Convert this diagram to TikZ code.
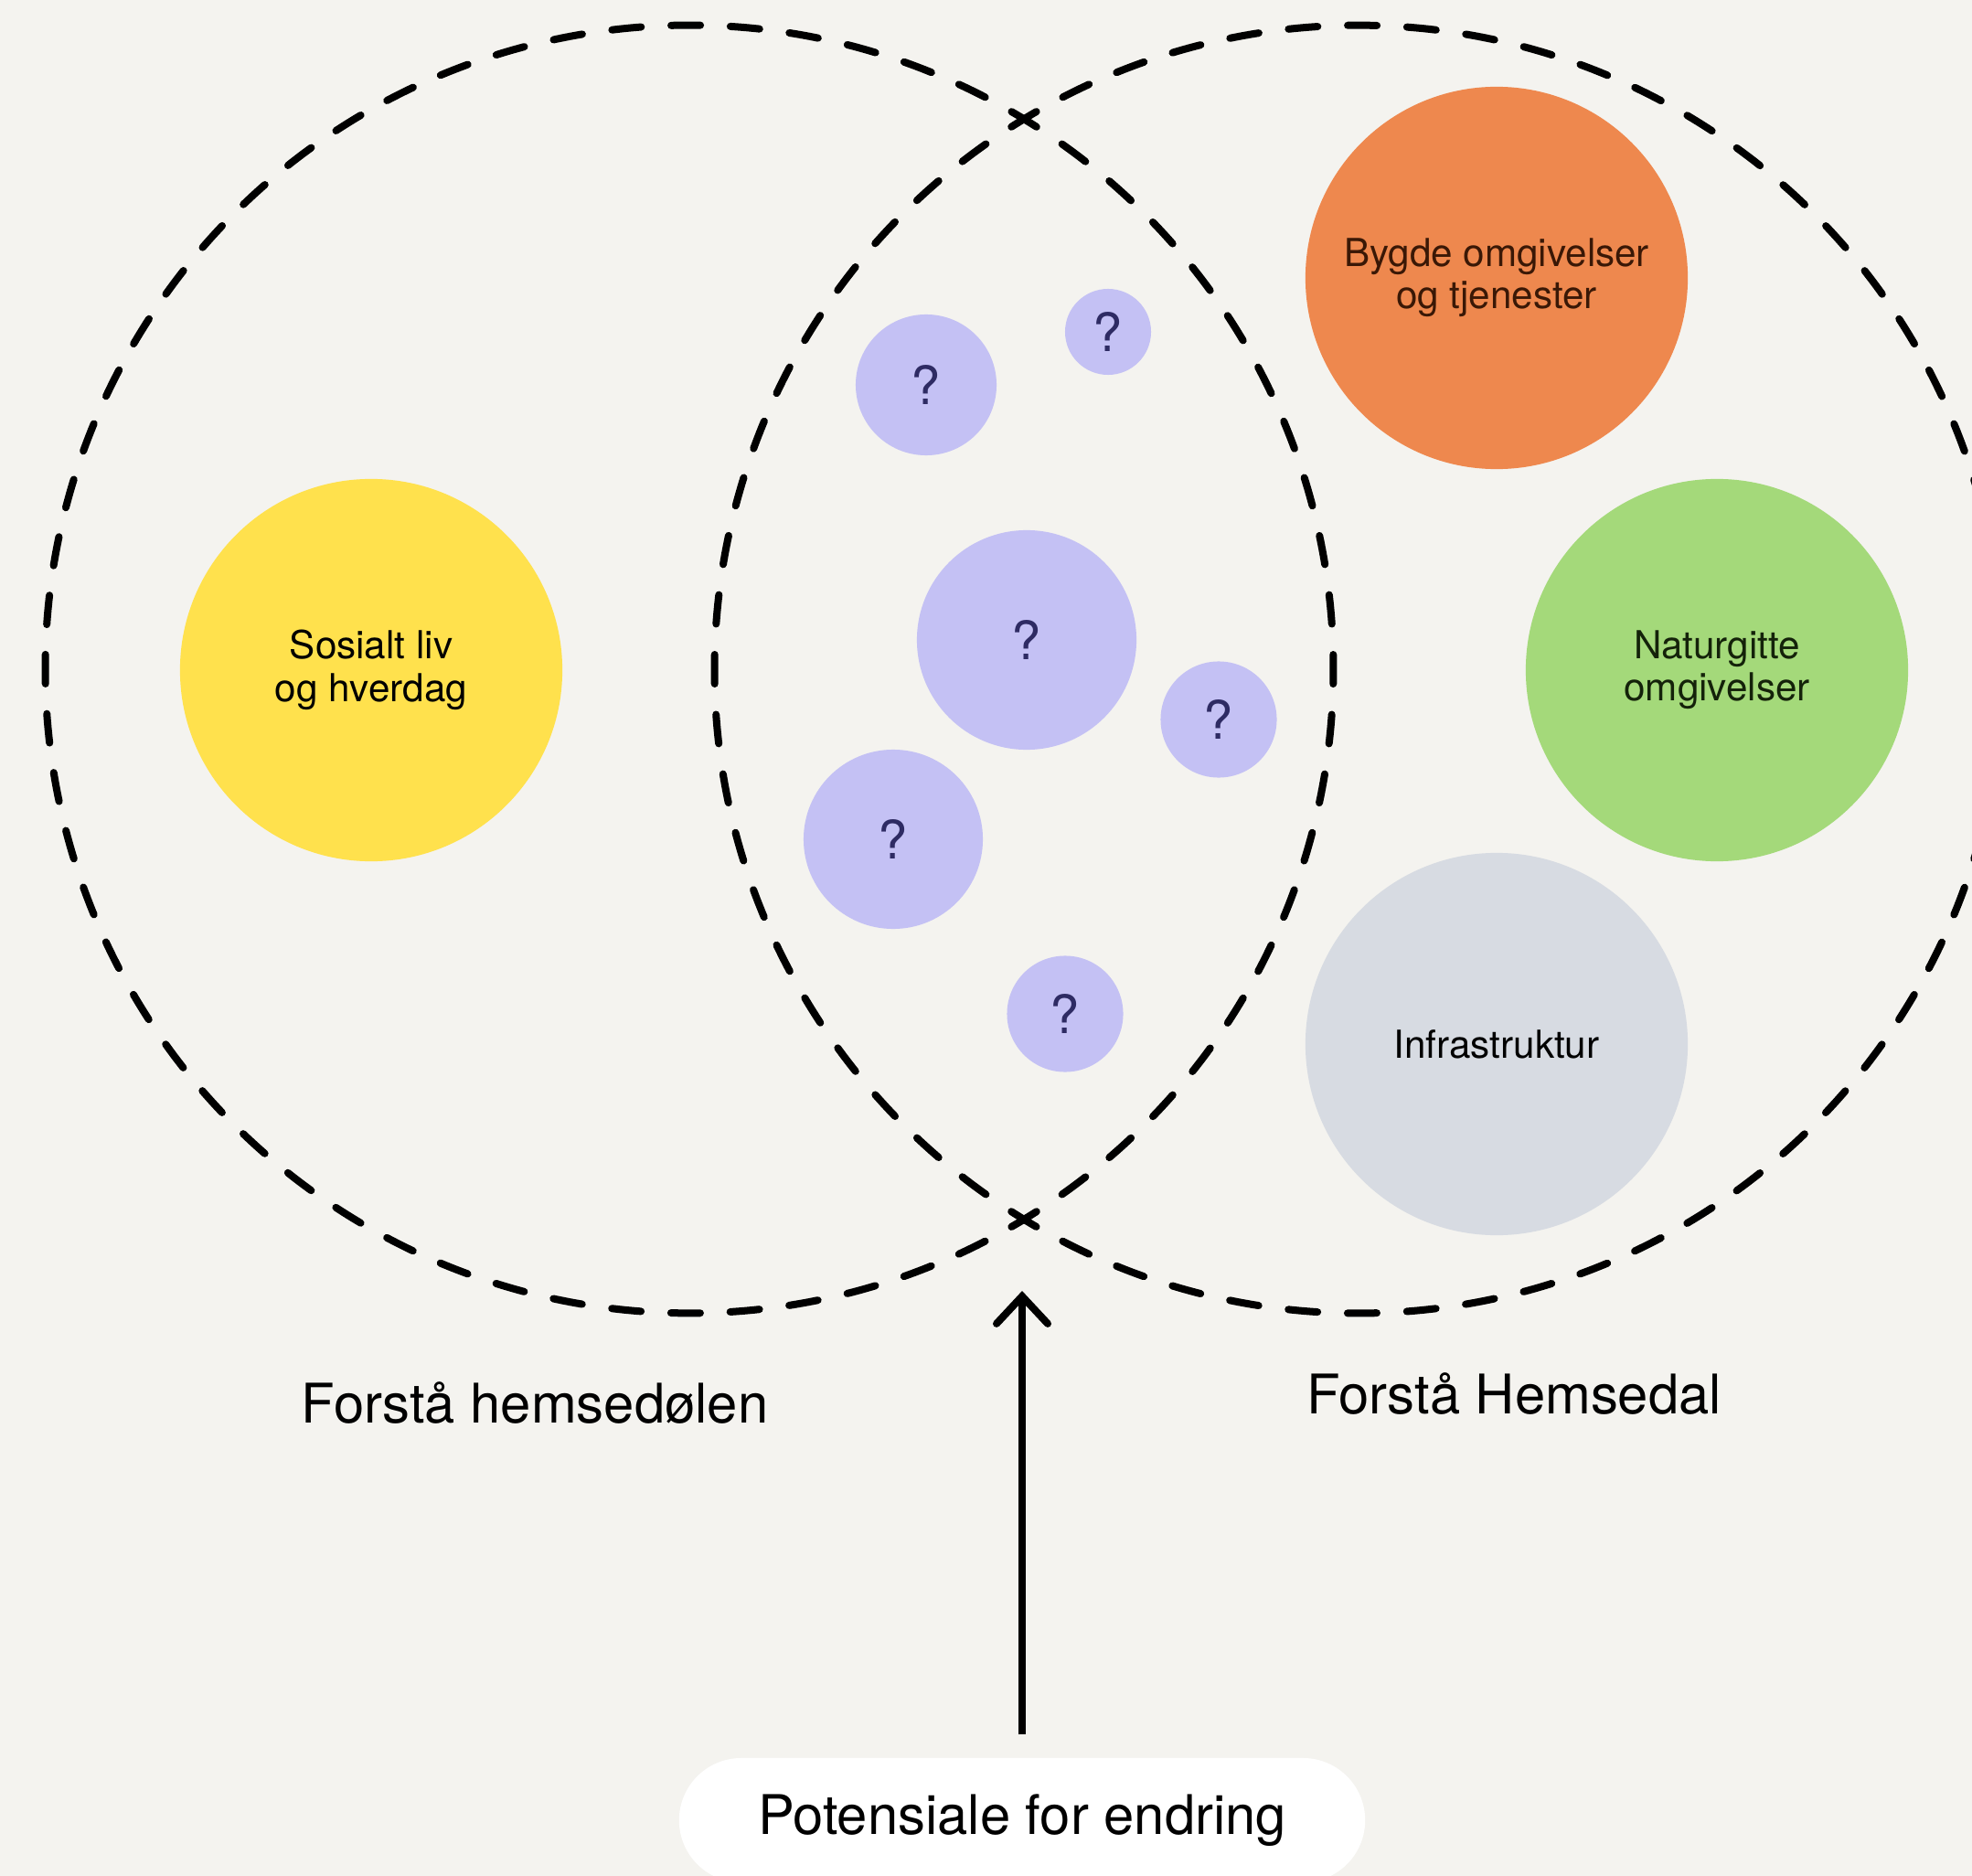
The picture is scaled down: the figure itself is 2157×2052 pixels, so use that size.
\documentclass[tikz,border=0pt]{standalone}
\usepackage{fontspec}
\setmainfont{TeX Gyre Heros}
\usetikzlibrary{arrows.meta}
\definecolor{bgc}{HTML}{F4F3EF}
\definecolor{yel}{HTML}{FFE14D}
\definecolor{ora}{HTML}{EE884E}
\definecolor{orat}{HTML}{3A1806}
\definecolor{gre}{HTML}{A4D97A}
\definecolor{gret}{HTML}{14220A}
\definecolor{gry}{HTML}{D7DBE2}
\definecolor{pur}{HTML}{C4C1F4}
\definecolor{purt}{HTML}{2E2B63}
\tikzset{
  vennline/.style={draw=black, line width=0.08cm, line cap=round, dash phase=0.16cm},
  outerarc/.style={vennline, dash pattern=on 0.32cm off 0.32815cm},
  innerarc/.style={vennline, dash pattern=on 0.32cm off 0.3354cm},
  topic/.style={circle, inner sep=0pt, minimum size=4.18cm, align=center, font=\fontsize{12}{13.2}\selectfont},
  qbub/.style={circle, fill=pur, inner sep=0pt, text=purt, font=\fontsize{16.5}{16.5}\selectfont},
  biglabel/.style={font=\fontsize{17}{20}\selectfont},
}
\begin{document}
\begin{tikzpicture}[x=0.01cm,y=-0.01cm]
\fill[bgc] (0,0) rectangle (2157,2052);
\useasboundingbox (0,0) rectangle (2157,2052);

% topic circles
\node[topic, fill=yel, text=black] (sos) at (406,733) {Sosialt liv\\og hverdag};
\node[topic, fill=ora, text=orat] (byg) at (1637,304) {Bygde omgivelser\\og tjenester};
\node[topic, fill=gre, text=gret] (nat) at (1878,733) {Naturgitte\\omgivelser};
\node[topic, fill=gry, text=black] (inf) at (1637,1142) {Infrastruktur};

% question bubbles
\node[qbub, minimum size=1.54cm] (q1) at (1013,421) {?};
\node[qbub, minimum size=0.94cm] (q2) at (1212,363) {?};
\node[qbub, minimum size=2.40cm] (q3) at (1123,700) {?};
\node[qbub, minimum size=1.27cm] (q4) at (1333,787) {?};
\node[qbub, minimum size=1.96cm] (q5) at (977,918) {?};
\node[qbub, minimum size=1.27cm] (q6) at (1165,1109) {?};

% venn circles (dashed), split at the two intersections
\coordinate (lc) at (754,732);
\coordinate (rc) at (1486,732);
\draw[outerarc] (lc) ++(58.674:7.04cm) arc[start angle=58.674, end angle=301.326, radius=7.04cm];
\draw[innerarc] (lc) ++(-58.674:7.04cm) arc[start angle=-58.674, end angle=58.674, radius=7.04cm];
\draw[outerarc] (rc) ++(-121.326:7.04cm) arc[start angle=-121.326, end angle=121.326, radius=7.04cm];
\draw[innerarc] (rc) ++(121.326:7.04cm) arc[start angle=121.326, end angle=238.674, radius=7.04cm];

% labels
\node[biglabel] (lhem) at (585,1534) {Forstå hemsedølen};
\node[biglabel] (rhem) at (1656,1524) {Forstå Hemsedal};

% bottom box
\node[fill=white, rounded corners=0.68cm, minimum width=7.5cm, minimum height=1.36cm, biglabel] (pot) at (1118,1991) {Potensiale for endring};

\coordinate (tip) at (1118,1412);
\draw[line width=0.08cm, -{Straight Barb[length=0.3cm, width=0.56cm, line cap=round]}, shorten <=0.25cm] (pot.north) -- (tip);
\end{tikzpicture}
\end{document}
